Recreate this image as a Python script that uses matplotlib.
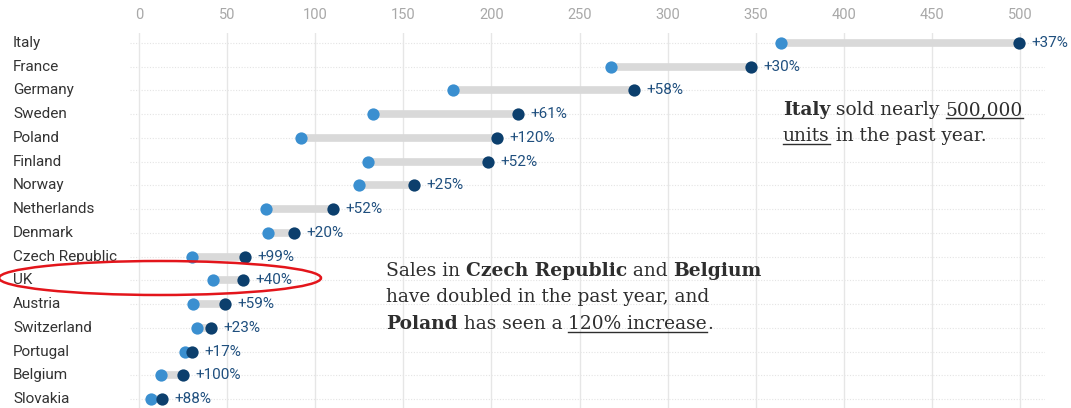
import matplotlib
matplotlib.use("Agg")
import matplotlib.pyplot as plt
import matplotlib.transforms as mtransforms
from matplotlib.patches import Ellipse

# sales in thousands of units: previous year vs past year
countries = ["Italy", "France", "Germany", "Sweden", "Poland", "Finland", "Norway",
             "Netherlands", "Denmark", "Czech Republic", "UK", "Austria",
             "Switzerland", "Portugal", "Belgium", "Slovakia"]
prev_year = [364, 268, 178, 133, 92, 130, 125, 72, 73, 30, 42, 31, 33, 26, 12.5, 7]
past_year = [499, 347, 281, 215, 203, 198, 156, 110, 88, 60, 59, 49, 41, 30, 25, 13]
change_labels = ["+37%", "+30%", "+58%", "+61%", "+120%", "+52%", "+25%", "+52%",
                 "+20%", "+99%", "+40%", "+59%", "+23%", "+17%", "+100%", "+88%"]
x_ticks = [0, 50, 100, 150, 200, 250, 300, 350, 400, 450, 500]

LIGHT = "#3a8fd0"
DARK = "#0c3f6d"
W, H = 1071, 408

fig = plt.figure(figsize=(W / 100, H / 100), dpi=100)
ax = fig.add_axes([130 / W, 0, (1045 - 130) / W, (H - 33) / H])

ypos = list(range(len(countries)))
for y, a, b in zip(ypos, prev_year, past_year):
    ax.plot([a, b], [y, y], color="#d9d9d9", lw=5.5, solid_capstyle="butt", zorder=2)
ax.scatter(prev_year, ypos, s=78, color=LIGHT, zorder=3, linewidths=0)
ax.scatter(past_year, ypos, s=78, color=DARK, zorder=4, linewidths=0)
for y, b, lab in zip(ypos, past_year, change_labels):
    ax.annotate(lab, (b, y), xytext=(9, 0), textcoords="offset points",
                va="center", ha="left", fontsize=11, color="#1f4f7e",
                family="Roboto")

ax.set_xlim(-5, 514)
ax.set_ylim(15.38, -0.42)
ax.set_xticks(x_ticks)
ax.xaxis.tick_top()
ax.tick_params(axis="x", length=0, pad=8, labelsize=10.5, labelcolor="#a8a8a8")
for t in ax.get_xticklabels():
    t.set_family("Roboto")
ax.set_yticks([])
for y in ypos:
    ax.axhline(y, color="#e4e4e4", lw=0.8, ls=(0, (1, 1.5)), zorder=0)
for x in x_ticks:
    ax.axvline(x, color="#e6e6e6", lw=1, zorder=0)
for s in ax.spines.values():
    s.set_visible(False)

# country names at the left edge of the figure
blend = mtransforms.blended_transform_factory(fig.transFigure, ax.transData)
for y, name in zip(ypos, countries):
    ax.text(13 / W, y, name, transform=blend, ha="left", va="center",
            fontsize=11, color="#333333", family="Roboto", clip_on=False)

renderer = fig.canvas.get_renderer()
SERIF = "DejaVu Serif"


def seg_width(s, bold, size):
    # measure with guard characters so spaces count
    t1 = fig.text(0, 0, "|" + s + "|", fontsize=size, family=SERIF,
                  weight="bold" if bold else "normal")
    t2 = fig.text(0, 0, "||", fontsize=size, family=SERIF,
                  weight="bold" if bold else "normal")
    w = t1.get_window_extent(renderer).width - t2.get_window_extent(renderer).width
    t1.remove()
    t2.remove()
    return w


def rich_text(x0, y0, lines, size=13.4, spacing=26, color="#2e2e2e"):
    for i, line in enumerate(lines):
        x = x0
        base = H - (y0 + i * spacing)
        for s, bold, under in line:
            fig.text(x / W, base / H, s, fontsize=size, family=SERIF, color=color,
                     weight="bold" if bold else "normal", va="baseline", ha="left")
            w = seg_width(s, bold, size)
            if under:
                fig.add_artist(plt.Line2D([x / W, (x + w) / W],
                                          [(base - 3) / H, (base - 3) / H],
                                          transform=fig.transFigure, color=color, lw=1))
            x += w


rich_text(783, 115, [
    [("Italy", True, False), (" sold nearly ", False, False), ("500,000", False, True)],
    [("units", False, True), (" in the past year.", False, False)],
])
rich_text(386, 276, [
    [("Sales in ", False, False), ("Czech Republic", True, False), (" and ", False, False),
     ("Belgium", True, False)],
    [("have doubled in the past year, and", False, False)],
    [("Poland", True, False), (" has seen a ", False, False), ("120% increase", False, True),
     (".", False, False)],
], spacing=26.5)

fig.add_artist(Ellipse((160 / W, 1 - 278 / H), 322 / W, 34 / H,
                       transform=fig.transFigure, fill=False, ec="#e3151b", lw=1.8))

fig.savefig("out.png", dpi=100)
